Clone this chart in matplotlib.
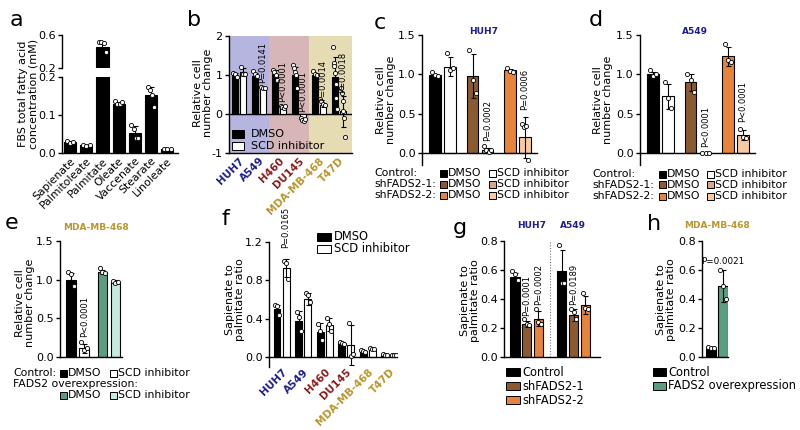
import numpy as np
import matplotlib
matplotlib.use('Agg')
import matplotlib.pyplot as plt
from matplotlib.patches import Rectangle

W, H = 800, 430
plt.rcParams['font.family'] = ['DejaVu Sans']
plt.rcParams['axes.linewidth'] = 1.0

# ---------------- data ----------------
# a: FBS fatty acids (mM)
fa_names = ['Sapienate', 'Palmitoleate', 'Palmitate', 'Oleate', 'Vaccenate', 'Stearate', 'Linoleate']
fa_mean = [0.028, 0.020, 0.46, 0.130, 0.053, 0.153, 0.010]
fa_err = [0.003, 0.002, 0.06, 0.004, 0.017, 0.022, 0.001]
fa_pts = [[0.031, 0.027, 0.030], [0.021, 0.019, 0.022], [0.51, 0.52, 0.50, 0.39],
          [0.136, 0.130, 0.128, 0.134], [0.074, 0.063, 0.040, 0.040],
          [0.174, 0.166, 0.153, 0.121], [0.011, 0.010, 0.010]]

# b: relative cell number change
cell_lines = ['HUH7', 'A549', 'H460', 'DU145', 'MDA-MB-468', 'T47D']
b_dmso = [1.00, 0.97, 1.02, 1.00, 1.00, 0.95]
b_dmso_err = [0.05, 0.07, 0.10, 0.20, 0.05, 0.50]
b_dmso_pts = [[1.05, 1.03, 0.95], [1.10, 1.03, 0.97], [1.13, 1.08, 1.00, 0.87],
              [1.25, 1.18, 1.08, 1.00, 0.66], [1.10, 1.03, 1.00],
              [1.71, 1.32, 1.24, 1.05, 0.76, 0.42, 0.13]]
b_scd = [1.07, 0.67, 0.15, -0.13, 0.24, 0.07]
b_scd_err = [0.10, 0.03, 0.03, 0.04, 0.05, 0.40]
b_scd_pts = [[1.21, 1.03, 1.02], [0.70, 0.66, 0.66], [0.20, 0.18, 0.16, 0.20],
             [-0.10, -0.15, -0.18, -0.12], [0.34, 0.26, 0.24],
             [0.66, 0.53, 0.34, 0.08, -0.10, -0.58]]
b_pvals = ['', 'P=0.0141', 'P<0.0001', 'P<0.0001', 'P=0.0014', 'P=0.0018']
b_pval_y = [0, 0.80, 0.30, 0.05, 0.34, 0.55]

# c: HUH7 shFADS2
c_mean = [0.99, 1.10, 0.98, 0.04, 1.05, 0.20]
c_err = [0.02, 0.12, 0.28, 0.03, 0.02, 0.26]
c_pts = [[1.03, 0.99, 0.98], [1.27, 1.05, 1.08], [1.31, 0.93, 0.76],
         [0.09, 0.04, 0.02, 0.04], [1.08, 1.04, 1.03], [0.37, 0.33, 0.35, -0.09]]
c_pvals = ['', '', '', 'P=0.0002', '', 'P=0.0006']
c_pval_y = [0, 0, 0, 0.16, 0, 0.55]

# d: A549 shFADS2
d_mean = [1.00, 0.72, 0.90, 0.005, 1.23, 0.23]
d_err = [0.03, 0.16, 0.11, 0.005, 0.12, 0.06]
d_pts = [[1.06, 0.98, 1.00], [0.90, 0.70, 0.57], [1.00, 0.93, 0.78],
         [0.0, 0.0, 0.0], [1.38, 1.18, 1.16], [0.31, 0.20, 0.19]]
d_pvals = ['', '', '', 'P<0.0001', '', 'P<0.0001']
d_pval_y = [0, 0, 0, 0.08, 0, 0.39]

# e: MDA-MB-468 FADS2 overexpression
e_mean = [1.00, 0.11, 1.10, 0.97]
e_err = [0.08, 0.06, 0.03, 0.02]
e_pts = [[1.10, 1.07, 0.92], [0.19, 0.09, 0.12], [1.15, 1.10, 1.09], [0.98, 0.96, 0.97]]

# f: sapienate to palmitate ratio per cell line
f_dmso = [0.50, 0.38, 0.26, 0.15, 0.07, 0.03]
f_dmso_err = [0.05, 0.10, 0.10, 0.01, 0.01, 0.005]
f_dmso_pts = [[0.55, 0.53, 0.44], [0.47, 0.42, 0.27], [0.35, 0.27, 0.18],
              [0.16, 0.15, 0.14], [0.075, 0.07, 0.06], [0.04, 0.03, 0.03]]
f_scd = [0.93, 0.61, 0.34, 0.13, 0.09, 0.02]
f_scd_err = [0.09, 0.06, 0.07, 0.21, 0.01, 0.005]
f_scd_pts = [[1.00, 0.98, 0.82], [0.67, 0.65, 0.58], [0.41, 0.35, 0.27],
             [0.36, 0.01, 0.04], [0.10, 0.09, 0.085], [0.03, 0.02, 0.02]]

# g: shFADS2 sapienate ratio
g_mean = [0.55, 0.23, 0.265, 0.59, 0.29, 0.36]
g_err = [0.03, 0.02, 0.05, 0.15, 0.04, 0.06]
g_pts = [[0.59, 0.57, 0.53], [0.26, 0.23, 0.22], [0.33, 0.24, 0.23],
         [0.77, 0.51, 0.51], [0.33, 0.31, 0.26], [0.44, 0.34, 0.33]]
g_pvals = ['', 'P=0.0001', 'P=0.0002', '', 'P=0.0189', '']
g_pval_y = [0, 0.28, 0.36, 0, 0.36, 0]

# h: MDA-MB-468 FADS2 overexpression ratio
h_mean = [0.065, 0.49]
h_err = [0.005, 0.11]
h_pts = [[0.07, 0.065, 0.06], [0.60, 0.49, 0.40]]

# ---------------- colours ----------------
NAVY, DRED, GOLD = '#1c1c8e', '#8b1a1a', '#b8952c'
cell_colors = [NAVY, NAVY, DRED, DRED, GOLD, GOLD]
BROWN, LBROWN = '#8b5a30', '#d8a886'
ORANGE, LORANGE = '#e8843a', '#f7caa2'
GREEN, LGREEN = '#5a9e82', '#c3ecdc'
shcols = ['black', 'white', BROWN, LBROWN, ORANGE, LORANGE]
LEG_FS = 7.8

fig = plt.figure(figsize=(W / 100, H / 100), dpi=100)


def add_ax(l, t, r, b):
    return fig.add_axes([l / W, 1 - b / H, (r - l) / W, (b - t) / H])


def style(ax, ylim, yticks, xlim, fmt='{:.1f}'):
    for s in ['top', 'right']:
        ax.spines[s].set_visible(False)
    ax.set_ylim(*ylim)
    ax.set_xlim(*xlim)
    ax.set_yticks(yticks)
    ax.set_yticklabels([fmt.format(v) for v in yticks])
    ax.tick_params(axis='y', length=3, width=1, labelsize=8, pad=1.5)
    ax.tick_params(axis='x', length=0)
    ax.set_xticks([])
    ax.patch.set_alpha(0)


def draw_bars(ax, xs, means, errs, pts, colors, width, prange=None):
    ax.bar(xs, means, width=width, color=colors, edgecolor='black', linewidth=0.8, zorder=2)
    ax.errorbar(xs, means, yerr=errs, fmt='none', ecolor='black', elinewidth=0.8,
                capsize=1.8, capthick=0.8, zorder=3)
    for x, p in zip(xs, pts):
        n = len(p)
        offs = np.linspace(-0.28 * width, 0.28 * width, n) if n > 1 else np.zeros(1)
        p = np.asarray(p, dtype=float)
        if prange is not None:
            keep = (p >= prange[0]) & (p <= prange[1])
            offs, p = offs[keep], p[keep]
        ax.scatter(x + offs, p, s=9, facecolor='white', edgecolor='black',
                   linewidths=0.6, zorder=4)


def pv(ax, x, y, s, fs=6):
    if s:
        ax.text(x, y, s, rotation=90, ha='center', va='bottom', fontsize=fs,
                clip_on=False, zorder=5)


def ftext(x, y, s, **kw):
    kw.setdefault('va', 'center')
    kw.setdefault('fontsize', LEG_FS)
    fig.text(x / W, 1 - y / H, s, **kw)


def fsq(x, y, w, h, color):
    fig.patches.append(Rectangle((x / W, 1 - (y + h / 2) / H), w / W, h / H,
                                 transform=fig.transFigure, facecolor=color,
                                 edgecolor='black', linewidth=0.7, zorder=5))


def ylab(x, y, s):
    ftext(x, y, s, rotation=90, ha='center', va='center', fontsize=8,
          multialignment='center', linespacing=1.1)


def letter(x, y, s):
    ftext(x, y, s, ha='center', va='center', fontsize=16)


# ---------------- panel a ----------------
xa = np.arange(len(fa_names))
axt = add_ax(62, 35, 178, 68)
axb = add_ax(62, 77, 178, 153)
for ax, yl, yt in [(axt, (0.2, 0.6), [0.2, 0.6]), (axb, (0, 0.2), [0.0, 0.1, 0.2])]:
    style(ax, yl, yt, (-0.5, 6.67))
    draw_bars(ax, xa, fa_mean, fa_err, fa_pts, 'black', 0.75, prange=yl)
axt.spines['bottom'].set_visible(False)
axb.set_xticks(xa)
axb.set_xticklabels(fa_names, rotation=45, ha='right', rotation_mode='anchor', fontsize=7.8)
axb.tick_params(axis='x', length=0, pad=2)
ylab(28, 94, 'FBS total fatty acid\nconcentration (mM)')
letter(16, 20, 'a')

# ---------------- panel b ----------------
axb2 = add_ax(229, 36, 352, 153)
style(axb2, (-1, 2), [-1, 0, 1, 2], (-0.5, 5.65), fmt='{:.0f}')
for (x0, x1, col) in [(-0.5, 1.5, '#b5b5df'), (1.5, 3.5, '#d6b6b6'), (3.5, 5.65, '#e6dcb3')]:
    axb2.axvspan(x0, x1, color=col, zorder=0, lw=0)
axb2.axhline(0, color='black', lw=1, zorder=1.5)
xb = np.arange(len(cell_lines))
draw_bars(axb2, xb - 0.2, b_dmso, b_dmso_err, b_dmso_pts, 'black', 0.3)
draw_bars(axb2, xb + 0.2, b_scd, b_scd_err, b_scd_pts, 'white', 0.3)
for i in range(len(cell_lines)):
    pv(axb2, xb[i] + 0.2, b_pval_y[i], b_pvals[i])
axb2.set_xticks(xb)
axb2.set_xticklabels(cell_lines, rotation=45, ha='right', rotation_mode='anchor',
                     fontsize=7.5, fontweight='bold')
for t, c in zip(axb2.get_xticklabels(), cell_colors):
    t.set_color(c)
axb2.tick_params(axis='x', length=0, pad=2)
fsq(232, 134, 12, 8, 'black'); ftext(251, 134, 'DMSO', fontsize=8)
fsq(232, 146, 12, 8, 'white'); ftext(251, 146, 'SCD inhibitor', fontsize=8)
ylab(203, 93, 'Relative cell\nnumber change')
letter(194, 20, 'b')

# ---------------- panel c / d ----------------
xcd = np.array([0, 1, 2.5, 3.5, 5, 6])
for (l, r, mean, err, pts, pvals, pvy, title, tx, lx, sqx1, sqx2, rows, ylx, lett) in [
        (422, 537, c_mean, c_err, c_pts, c_pvals, c_pval_y, 'HUH7', 484, 374, 440, 489,
         [173, 184, 195], 386, (380, 23)),
        (640, 755, d_mean, d_err, d_pts, d_pvals, d_pval_y, 'A549', 695, 592, 659, 707,
         [174, 185, 196], 603, (596, 20))]:
    ax = add_ax(l, 35, r, 165)
    style(ax, (-0.15, 1.5), [0.0, 0.5, 1.0, 1.5], (-0.87, 6.8))
    ax.spines['bottom'].set_position(('data', 0))
    draw_bars(ax, xcd, mean, err, pts, shcols, 0.75)
    for i in range(6):
        pv(ax, xcd[i], pvy[i], pvals[i])
    ftext(tx, 31, title, ha='center', fontsize=6.5, fontweight='bold', color=NAVY)
    labels = ['Control:', 'shFADS2-1:', 'shFADS2-2:']
    for k in range(3):
        y = rows[k]
        ftext(lx, y, labels[k])
        fsq(sqx1, y, 7, 7, shcols[2 * k]); ftext(sqx1 + 8, y, 'DMSO')
        fsq(sqx2, y, 7, 7, shcols[2 * k + 1]); ftext(sqx2 + 8, y, 'SCD inhibitor')
    ylab(ylx, 100, 'Relative cell\nnumber change')
    letter(lett[0], lett[1], 'c' if title == 'HUH7' else 'd')

# ---------------- panel e ----------------
xe = np.array([0, 1, 2.4, 3.4])
axe = add_ax(60, 241, 122, 357)
style(axe, (0, 1.5), [0.0, 0.5, 1.0, 1.5], (-0.85, 3.9))
draw_bars(axe, xe, e_mean, e_err, e_pts, ['black', 'white', GREEN, LGREEN], 0.75)
pv(axe, xe[1], 0.26, 'P<0.0001')
ftext(96, 227, 'MDA-MB-468', ha='center', fontsize=6.5, fontweight='bold', color=GOLD)
ftext(13, 373, 'Control:')
fsq(60, 373, 7, 7, 'black'); ftext(68, 373, 'DMSO')
fsq(110, 373, 7, 7, 'white'); ftext(118, 373, 'SCD inhibitor')
ftext(13, 384, 'FADS2 overexpression:')
fsq(60, 395, 7, 7, GREEN); ftext(68, 395, 'DMSO')
fsq(110, 395, 7, 7, LGREEN); ftext(118, 395, 'SCD inhibitor')
ylab(25, 303, 'Relative cell\nnumber change')
letter(12, 223, 'e')

# ---------------- panel f ----------------
axf = add_ax(269, 242, 397, 367)
style(axf, (-0.1, 1.2), [0.0, 0.4, 0.8, 1.2], (-0.58, 5.35))
axf.spines['bottom'].set_position(('data', 0))
xf = np.arange(len(cell_lines))
draw_bars(axf, xf - 0.21, f_dmso, f_dmso_err, f_dmso_pts, 'black', 0.32)
draw_bars(axf, xf + 0.21, f_scd, f_scd_err, f_scd_pts, 'white', 0.32)
pv(axf, xf[0] + 0.21, 1.14, 'P=0.0165')
axf.set_xticks(xf)
axf.set_xticklabels(cell_lines, rotation=45, ha='right', rotation_mode='anchor',
                    fontsize=7.5, fontweight='bold')
for t, c in zip(axf.get_xticklabels(), cell_colors):
    t.set_color(c)
axf.tick_params(axis='x', length=0, pad=7)
fsq(317, 237, 14, 8, 'black'); ftext(334, 237, 'DMSO', fontsize=8.3)
fsq(317, 249, 14, 8, 'white'); ftext(334, 249, 'SCD inhibitor', fontsize=8.3)
ylab(235, 300, 'Sapienate to\npalmitate ratio')
letter(225, 219, 'f')

# ---------------- panel g ----------------
xg = np.array([0, 1, 2, 4, 5, 6])
axg = add_ax(504, 241, 600, 357)
style(axg, (0, 0.8), [0.0, 0.2, 0.4, 0.6, 0.8], (-0.94, 7.26))
gcols = ['black', BROWN, ORANGE, 'black', BROWN, ORANGE]
draw_bars(axg, xg, g_mean, g_err, g_pts, gcols, 0.78)
axg.axvline(3, color='#777777', lw=0.8, ls=(0, (1, 1.5)), zorder=1)
for i in range(6):
    pv(axg, xg[i], g_pval_y[i], g_pvals[i])
ftext(532, 225, 'HUH7', ha='center', fontsize=6.5, fontweight='bold', color=NAVY)
ftext(573, 225, 'A549', ha='center', fontsize=6.5, fontweight='bold', color=NAVY)
for y, col, lab in [(372, 'black', 'Control'), (386, BROWN, 'shFADS2-1'), (400, ORANGE, 'shFADS2-2')]:
    fsq(506, y, 14, 8, col); ftext(522, y, lab, fontsize=8.3)
ylab(470, 301, 'Sapienate to\npalmitate ratio')
letter(460, 228, 'g')

# ---------------- panel h ----------------
xh = np.array([0, 1])
axh = add_ax(702, 241, 728, 357)
style(axh, (0, 0.8), [0.0, 0.2, 0.4, 0.6, 0.8], (-0.75, 1.42))
draw_bars(axh, xh, h_mean, h_err, h_pts, ['black', GREEN], 0.78)
axh.text(0.95, 0.66, 'P=0.0021', ha='center', va='center', fontsize=6.3, clip_on=False)
ftext(717, 225, 'MDA-MB-468', ha='center', fontsize=6.5, fontweight='bold', color=GOLD)
fsq(653, 372, 13, 8, 'black'); ftext(668, 372, 'Control', fontsize=8.3)
fsq(653, 386, 13, 8, GREEN); ftext(668, 386, 'FADS2 overexpression', fontsize=8.3)
ylab(666, 300, 'Sapienate to\npalmitate ratio')
letter(654, 224, 'h')

fig.savefig('out.png', dpi=100)
